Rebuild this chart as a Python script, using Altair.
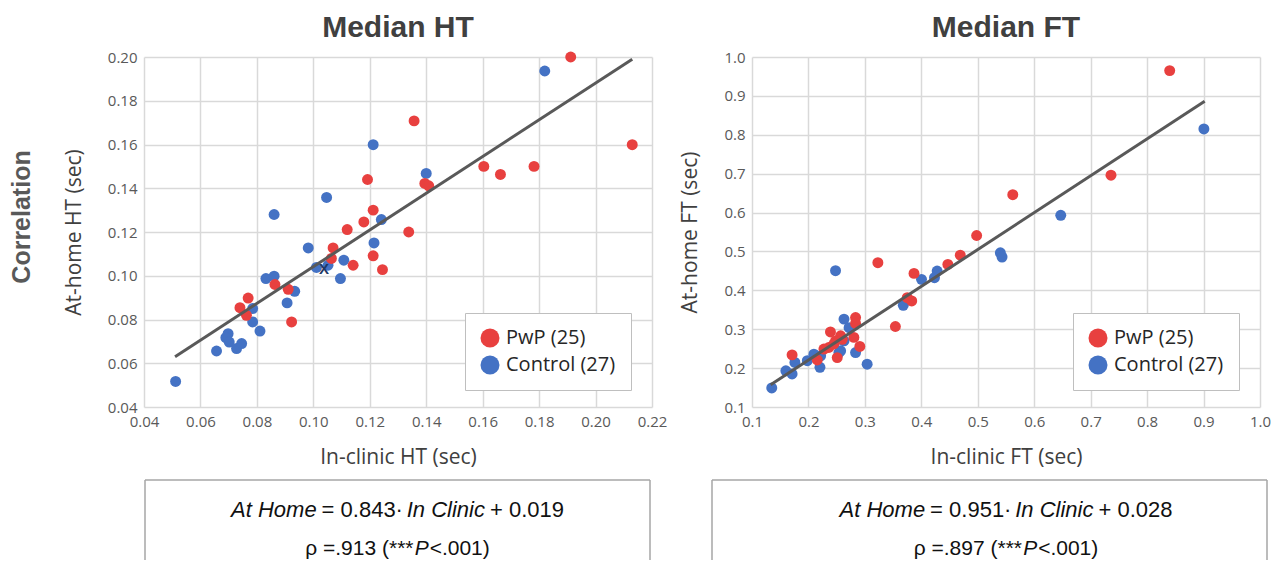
import altair as alt
import pandas as pd

RED = "#E8403F"
BLUE = "#4472C4"
GROUPS = ["PwP (25)", "Control (27)"]

# ---- Median HT (left) ----
ht_pwp_x = [0.1912, 0.2130, 0.1357, 0.1604, 0.1663, 0.1782, 0.1395, 0.1409, 0.1338, 0.1192,
            0.1212, 0.1179, 0.1120, 0.1070, 0.1064, 0.1141, 0.1212, 0.1245, 0.0864, 0.0911,
            0.0769, 0.0740, 0.0763, 0.0923]
ht_pwp_y = [0.2000, 0.1599, 0.1708, 0.1500, 0.1463, 0.1500, 0.1422, 0.1411, 0.1200, 0.1440,
            0.1300, 0.1246, 0.1211, 0.1127, 0.1079, 0.1048, 0.1091, 0.1028, 0.0960, 0.0938,
            0.0898, 0.0854, 0.0819, 0.0789]
ht_ctl_x = [0.1820, 0.1212, 0.1400, 0.1047, 0.0861, 0.1241, 0.1215, 0.0982, 0.1108, 0.1011,
            0.1052, 0.1096, 0.0832, 0.0861, 0.0934, 0.0907, 0.0785, 0.0785, 0.0811, 0.0698,
            0.0690, 0.0702, 0.0728, 0.0746, 0.0657, 0.0512]
ht_ctl_y = [0.1936, 0.1599, 0.1468, 0.1358, 0.1280, 0.1257, 0.1150, 0.1127, 0.1071, 0.1038,
            0.1048, 0.0987, 0.0987, 0.0998, 0.0929, 0.0876, 0.0850, 0.0789, 0.0747, 0.0735,
            0.0717, 0.0697, 0.0667, 0.0690, 0.0656, 0.0517]
ht_line_x = [0.051, 0.213]
ht_line_y = [0.063, 0.199]
ht_mean = (0.1038, 0.1033)
ht_xticks = [0.04, 0.06, 0.08, 0.10, 0.12, 0.14, 0.16, 0.18, 0.20, 0.22]
ht_yticks = [0.04, 0.06, 0.08, 0.10, 0.12, 0.14, 0.16, 0.18, 0.20]

# ---- Median FT (right) ----
ft_pwp_x = [0.840, 0.736, 0.562, 0.498, 0.469, 0.447, 0.387, 0.323, 0.375, 0.383,
            0.354, 0.2835, 0.2835, 0.2805, 0.291, 0.239, 0.257, 0.248, 0.236, 0.2274,
            0.245, 0.251, 0.2156, 0.171, 0.260]
ft_pwp_y = [0.965, 0.696, 0.646, 0.541, 0.4905, 0.4667, 0.4436, 0.471, 0.381, 0.3726,
            0.307, 0.330, 0.315, 0.279, 0.2556, 0.293, 0.283, 0.270, 0.253, 0.249,
            0.262, 0.227, 0.221, 0.234, 0.274]
ft_ctl_x = [0.9006, 0.647, 0.540, 0.543, 0.428, 0.4233, 0.4003, 0.248, 0.368, 0.263,
            0.272, 0.2835, 0.304, 0.257, 0.263, 0.2216, 0.2204, 0.2097, 0.198, 0.176,
            0.160, 0.171, 0.135, 0.254, 0.215]
ft_ctl_y = [0.815, 0.593, 0.4966, 0.4855, 0.4495, 0.4326, 0.4282, 0.4504, 0.3615, 0.326,
            0.304, 0.240, 0.210, 0.2444, 0.270, 0.2315, 0.202, 0.2359, 0.219, 0.2146,
            0.193, 0.185, 0.149, 0.240, 0.225]
ft_line_x = [0.133, 0.902]
ft_line_y = [0.157, 0.886]
ft_xticks = [0.1, 0.2, 0.3, 0.4, 0.5, 0.6, 0.7, 0.8, 0.9, 1.0]
ft_yticks = [0.1, 0.2, 0.3, 0.4, 0.5, 0.6, 0.7, 0.8, 0.9, 1.0]

ht_eq = [("At Home", "italic"), ("= 0.843·", "normal"), ("In Clinic", "italic"), ("+ 0.019", "normal")]
ht_rho = [("ρ =.913 (***", "normal"), ("P", "italic"), ("<.001)", "normal")]
ft_eq = [("At Home", "italic"), ("= 0.951·", "normal"), ("In Clinic", "italic"), ("+ 0.028", "normal")]
ft_rho = [("ρ =.897 (***", "normal"), ("P", "italic"), ("<.001)", "normal")]

W, H = 508, 350

# Arial / Liberation Sans advance widths (per 1000 em) for centring the text pieces
AW = {' ': 278, 'A': 667, 't': 278, 'H': 722, 'o': 556, 'm': 833, 'e': 556, '=': 584,
      '.': 278, '·': 278, 'I': 278, 'n': 556, 'C': 722, 'l': 222, 'i': 222, 'c': 500,
      '+': 584, 'ρ': 577, '(': 333, ')': 333, '*': 389, 'P': 667, '<': 584}


def tw(s, size):
    return sum(AW.get(ch, 556) for ch in s) * size / 1000.0


def text_row(segments, center, y, size, gap):
    total = sum(tw(s, size) for s, _ in segments) + gap * (len(segments) - 1)
    x = center - total / 2
    layers = []
    one = pd.DataFrame({"k": [0]})
    for s, style in segments:
        layers.append(
            alt.Chart(one).mark_text(text=s, align="left", baseline="middle", fontSize=size,
                                     font="Liberation Sans", fontStyle=style, color="#111111")
            .encode(x=alt.value(x), y=alt.value(y))
        )
        x += tw(s, size) + gap
    return layers


def panel(px, py, cx, cy, lx, ly, xdom, ydom, xticks, yticks, fmt, xtitle, ytitle, title,
          eq, rho, box_x0, box_x1, extra=None):
    df = pd.DataFrame({
        "x": cx + px,
        "y": cy + py,
        "group": [GROUPS[1]] * len(cx) + [GROUPS[0]] * len(px),
    })
    xs = alt.Scale(domain=xdom, nice=False, zero=False)
    ys = alt.Scale(domain=ydom, nice=False, zero=False)
    xax = alt.Axis(values=xticks, format=fmt, title=xtitle, titlePadding=17, labelFlush=False)
    yax = alt.Axis(values=yticks, format=fmt, title=ytitle, titlePadding=23, labelFlush=False)

    line = alt.Chart(pd.DataFrame({"x": lx, "y": ly})).mark_line(
        color="#595959", strokeWidth=3).encode(
        x=alt.X("x:Q", scale=xs, axis=xax), y=alt.Y("y:Q", scale=ys, axis=yax))

    pts = alt.Chart(df).mark_circle(size=120, opacity=1).encode(
        x=alt.X("x:Q", scale=xs, axis=xax),
        y=alt.Y("y:Q", scale=ys, axis=yax),
        color=alt.Color("group:N", scale=alt.Scale(domain=GROUPS, range=[RED, BLUE]),
                        legend=alt.Legend(orient="none", legendX=321, legendY=256, title=None,
                                          symbolType="circle", symbolSize=360,
                                          labelFontSize=20, labelFont="Open Sans",
                                          labelColor="#262626", strokeColor="#bfbfbf",
                                          fillColor="white", padding=15, rowPadding=7,
                                          labelOffset=6, symbolStrokeWidth=0,
                                          cornerRadius=0,
                                          labelExpr="datum.label + '\u00a0\u00a0\u00a0\u00a0\u00a0\u00a0'")),
        order=alt.Order("o:Q"),
    ).transform_calculate(o="datum.group == 'PwP (25)' ? 1 : 0")

    layers = [pts, line]
    one = pd.DataFrame({"k": [0]})
    if extra is not None:
        layers += extra(xs, ys)
    # box under the chart
    layers.append(alt.Chart(one).mark_rule(color="#a6a6a6", strokeWidth=1.5).encode(
        x=alt.value(box_x0), y=alt.value(423), y2=alt.value(503)))
    layers.append(alt.Chart(one).mark_rule(color="#a6a6a6", strokeWidth=1.5).encode(
        x=alt.value(box_x1), y=alt.value(423), y2=alt.value(503)))
    layers.append(alt.Chart(one).mark_rule(color="#a6a6a6", strokeWidth=1.5).encode(
        x=alt.value(box_x0), x2=alt.value(box_x1), y=alt.value(423)))
    center = (box_x0 + box_x1) / 2 if box_x0 > 0 else W / 2
    layers += text_row(eq, center, 453, 22, 5)
    layers += text_row(rho, center, 492, 21, 1)

    return alt.layer(*layers).properties(
        width=W, height=H,
        title=alt.TitleParams(title, fontSize=30, fontWeight="bold", font="Liberation Sans",
                              color="#404040", anchor="middle", frame="group", offset=7))


def ht_extra(xs, ys):
    one = pd.DataFrame({"k": [0]})
    corr = alt.Chart(one).mark_text(text="Correlation", angle=270, fontSize=25,
                                    fontWeight="bold", font="Liberation Sans",
                                    color="#595959", baseline="middle", align="center").encode(
        x=alt.value(-122), y=alt.value(160))
    mean = alt.Chart(pd.DataFrame({"x": [ht_mean[0]], "y": [ht_mean[1]]})).mark_text(
        text="X", fontSize=15, fontWeight="bold", font="Liberation Sans", color="#1F3864").encode(
        x=alt.X("x:Q", scale=xs), y=alt.Y("y:Q", scale=ys))
    return [mean, corr]


left = panel(ht_pwp_x, ht_pwp_y, ht_ctl_x, ht_ctl_y, ht_line_x, ht_line_y,
             [0.04, 0.22], [0.04, 0.20], ht_xticks, ht_yticks, ".2f",
             "In-clinic HT (sec)", "At-home HT (sec)", "Median HT",
             ht_eq, ht_rho, 1, 506, extra=ht_extra)
right = panel(ft_pwp_x, ft_pwp_y, ft_ctl_x, ft_ctl_y, ft_line_x, ft_line_y,
              [0.1, 1.0], [0.1, 1.0], ft_xticks, ft_yticks, ".1f",
              "In-clinic FT (sec)", "At-home FT (sec)", "Median FT",
              ft_eq, ft_rho, -40, 515)

chart = alt.hconcat(left, right, spacing=12).resolve_scale(
    color="independent").resolve_legend(color="independent").properties(
    padding={"left": 2, "top": 5, "right": 0, "bottom": 0}
).configure_view(stroke=None).configure_axis(
    grid=True, gridColor="#d9d9d9", gridWidth=1.5, domain=False, ticks=False, tickSize=0,
    labelFont="Open Sans", labelFontSize=15, labelColor="#595959", labelPadding=7,
    titleFont="Open Sans", titleFontSize=21, titleFontWeight="normal", titleColor="#404040",
)

chart.save("out.html", embed_options={"renderer": "svg", "actions": False})
